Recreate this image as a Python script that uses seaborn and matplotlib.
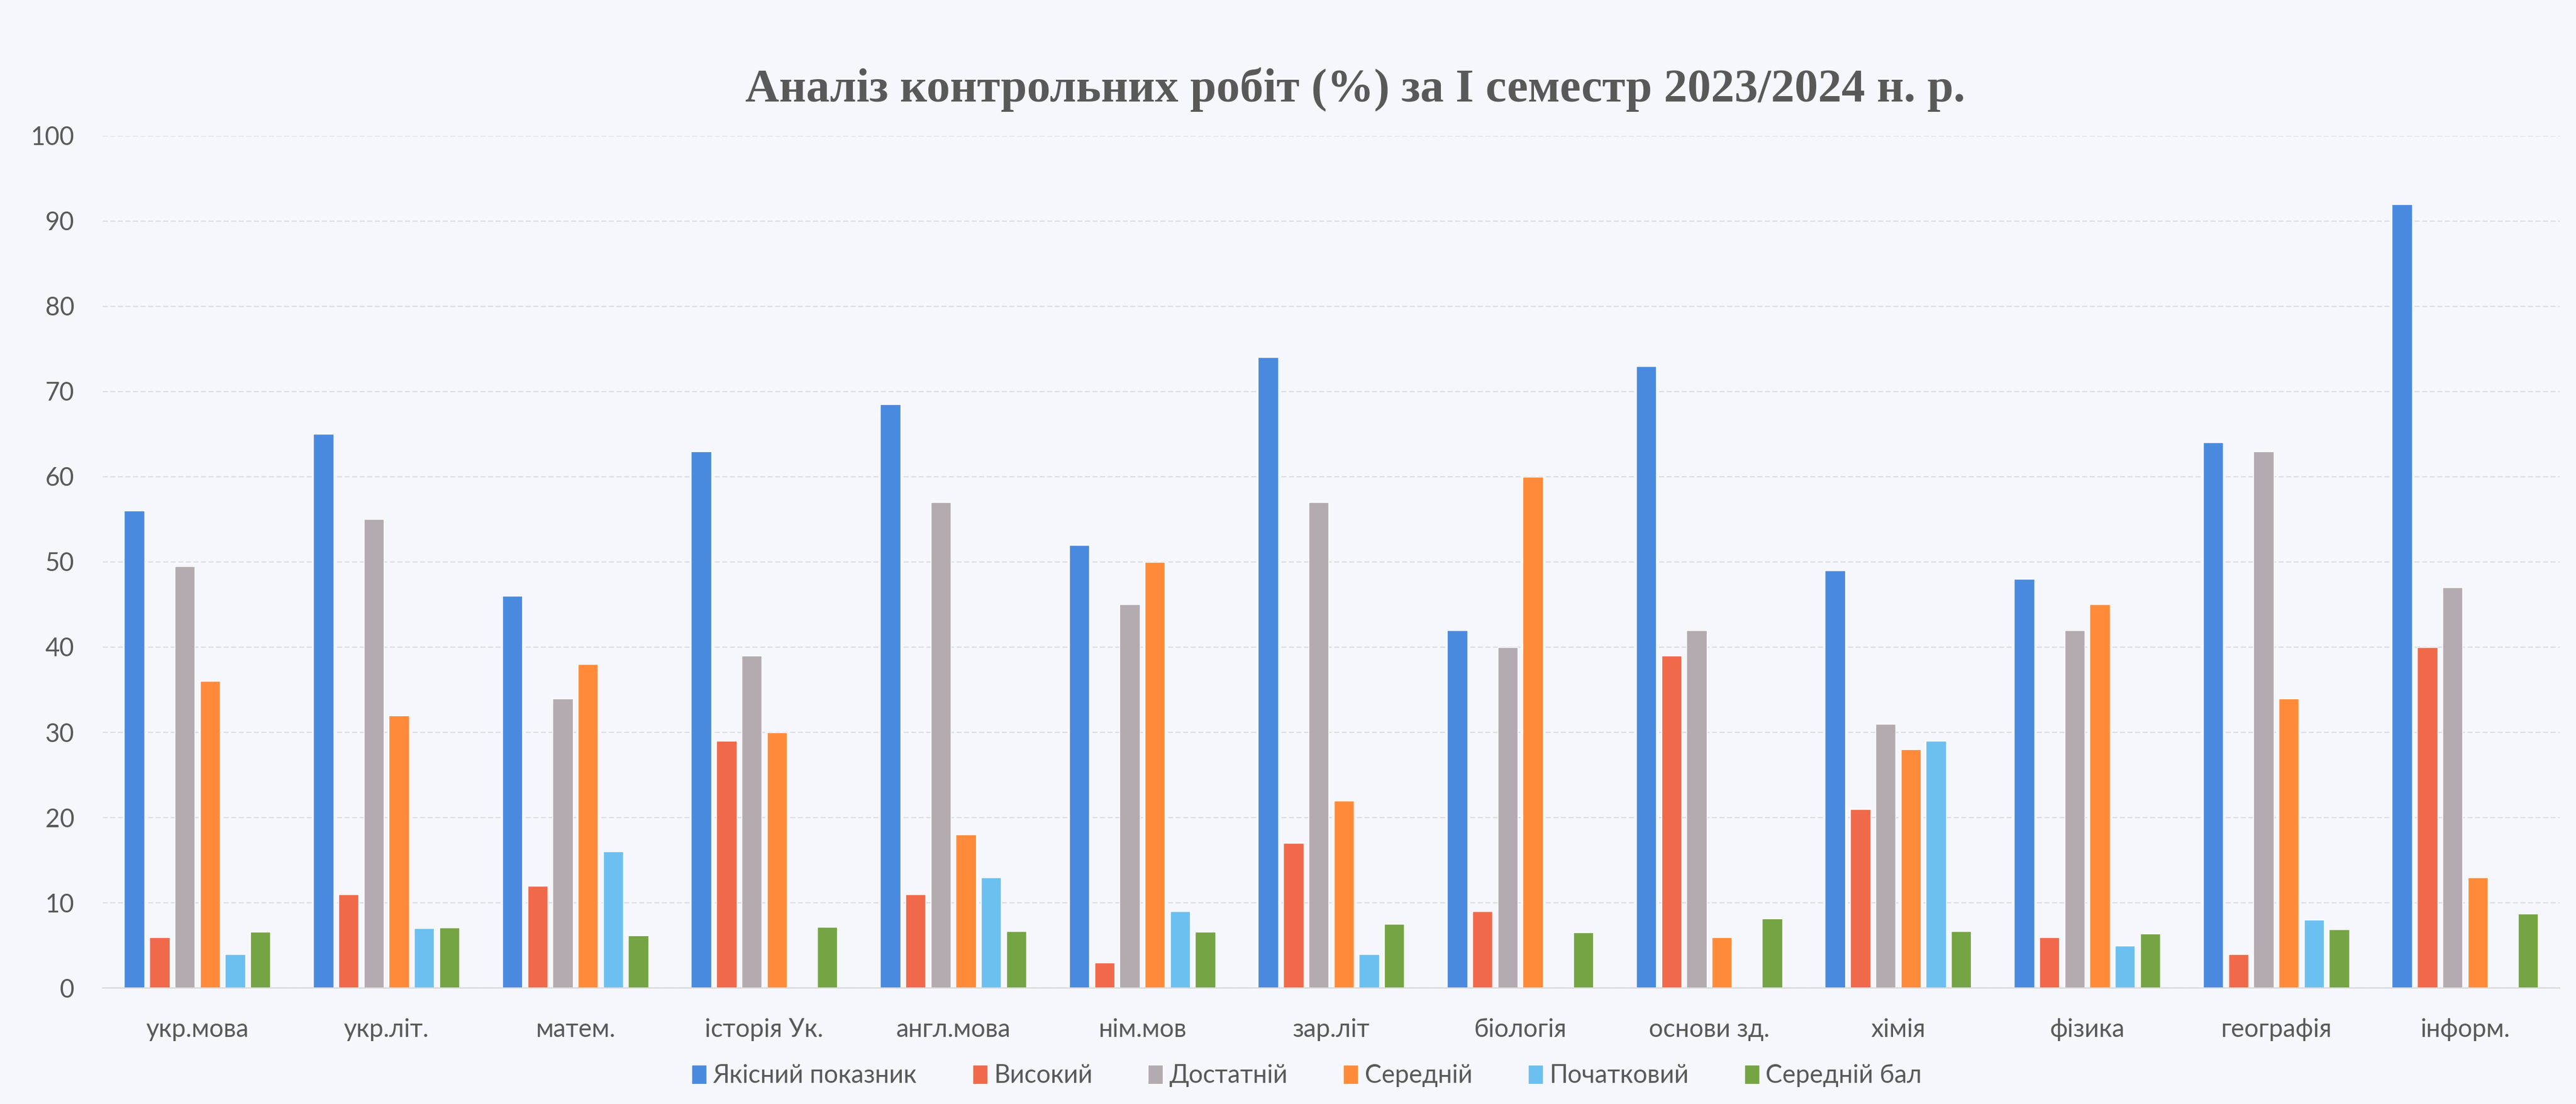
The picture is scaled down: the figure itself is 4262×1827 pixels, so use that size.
import matplotlib
matplotlib.use('Agg')
import matplotlib.pyplot as plt
import pandas as pd
import seaborn as sns

# Subjects and series values (%)
subjects = ['укр.мова', 'укр.літ.', 'матем.', 'історія Ук.', 'англ.мова', 'нім.мов',
            'зар.літ', 'біологія', 'основи зд.', 'хімія', 'фізика', 'географія', 'інформ.']
series = ['Якісний показник', 'Високий', 'Достатній', 'Середній', 'Початковий', 'Середній бал']

quality = [56, 65, 46, 63, 68.5, 52, 74, 42, 73, 49, 48, 64, 92]
high = [6, 11, 12, 29, 11, 3, 17, 9, 39, 21, 6, 4, 40]
sufficient = [49.5, 55, 34, 39, 57, 45, 57, 40, 42, 31, 42, 63, 47]
medium = [36, 32, 38, 30, 18, 50, 22, 60, 6, 28, 45, 34, 13]
initial = [4, 7, 16, 0, 13, 9, 4, 0, 0, 29, 5, 8, 0]
avg_score = [6.6, 7.1, 6.2, 7.2, 6.7, 6.6, 7.5, 6.5, 8.2, 6.7, 6.4, 6.9, 8.7]

colors = ['#4A8ADE', '#F0694A', '#B3ABB0', '#FF8B3A', '#6CC0F0', '#74A444']

# Long format for seaborn
values = [quality, high, sufficient, medium, initial, avg_score]
rows = []
for name, vals in zip(series, values):
    for subj, v in zip(subjects, vals):
        rows.append({'subject': subj, 'series': name, 'value': v})
df = pd.DataFrame(rows)

sns.set_style('white')
plt.rcParams['font.family'] = ['Lato', 'DejaVu Sans']

bg = '#F6F7FC'
text_color = '#595959'

fig = plt.figure(figsize=(42.62, 18.27), dpi=100, facecolor=bg)
ax = fig.add_axes([0.0399, 0.105, 0.9537, 0.772])
ax.set_facecolor(bg)

sns.barplot(data=df, x='subject', y='value', hue='series', order=subjects,
            hue_order=series, palette=colors, width=0.8, gap=0.2,
            saturation=1, ax=ax)

ax.set_ylim(0, 100)
ax.set_yticks(range(0, 101, 10))
ax.set_xlim(-0.5, len(subjects) - 0.5)
ax.yaxis.grid(True, color='#DDDEE4', linewidth=1.5, linestyle=(0, (4, 2)))
ax.set_axisbelow(True)
for s in ['top', 'right', 'left']:
    ax.spines[s].set_visible(False)
ax.spines['bottom'].set_color('#D9D9D9')
ax.spines['bottom'].set_linewidth(1.5)

ax.set_xlabel('')
ax.set_ylabel('')
ax.tick_params(axis='y', length=0, labelsize=30, pad=34, labelcolor=text_color)
ax.tick_params(axis='x', length=0, labelsize=30, pad=36, labelcolor=text_color)

fig.suptitle('Аналіз контрольних робіт (%) за І семестр 2023/2024 н. р.',
             x=0.526, y=0.919, va='center', fontsize=56, fontweight='bold',
             family=['Liberation Serif', 'DejaVu Serif'], color=text_color)

ax.legend(loc='lower center', bbox_to_anchor=(0.49, -0.131), ncol=6,
          frameon=False, fontsize=30, handlelength=0.6, handleheight=0.8,
          handletextpad=0.25, columnspacing=2.2, labelcolor=text_color,
          borderpad=0)

plt.savefig('out.png', dpi=100, facecolor=bg)
